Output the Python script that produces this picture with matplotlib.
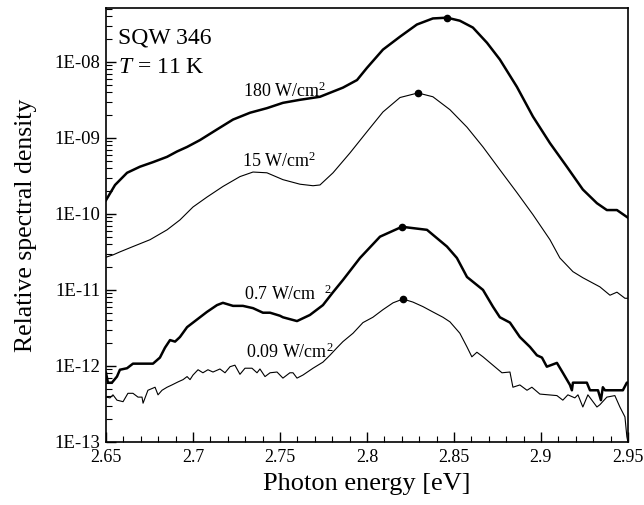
import numpy as np
import matplotlib
matplotlib.use("Agg")
import matplotlib.pyplot as plt
from matplotlib.ticker import MultipleLocator, FixedLocator, FuncFormatter

plt.rcParams['font.family'] = ['Liberation Serif', 'DejaVu Serif']
plt.rcParams['mathtext.fontset'] = 'custom'
plt.rcParams['mathtext.rm'] = 'Liberation Serif'
plt.rcParams['mathtext.it'] = 'Liberation Serif:italic'

# photon energy [eV] and log10(relative spectral density)
e_180 = [2.650, 2.6552, 2.6621, 2.6695, 2.677, 2.6851, 2.6908, 2.6966, 2.704, 2.7138,
         2.723, 2.7328, 2.7425, 2.7517, 2.7615, 2.773, 2.7862, 2.7943, 2.800, 2.8092,
         2.819, 2.8287, 2.8379, 2.846, 2.8534, 2.8609, 2.869, 2.8764, 2.8862, 2.8954,
         2.9052, 2.9149, 2.9241, 2.9322, 2.9379, 2.9437, 2.95]
d_180 = [-9.82, -9.62, -9.46, -9.38, -9.32, -9.25, -9.18, -9.12, -9.03, -8.89,
         -8.76, -8.67, -8.61, -8.54, -8.50, -8.46, -8.34, -8.24, -8.08, -7.84,
         -7.67, -7.51, -7.43, -7.42, -7.46, -7.55, -7.75, -7.97, -8.33, -8.72,
         -9.07, -9.38, -9.68, -9.86, -9.95, -9.95, -10.05]

e_15 = [2.650, 2.654, 2.658, 2.6655, 2.6753, 2.6851, 2.6925, 2.700, 2.708, 2.7172,
        2.727, 2.7345, 2.7425, 2.7517, 2.7615, 2.769, 2.773, 2.7805, 2.7902, 2.800,
        2.8092, 2.819, 2.8293, 2.8379, 2.8477, 2.8575, 2.8667, 2.8764, 2.8862, 2.8954,
        2.9052, 2.9109, 2.9184, 2.9241, 2.9339, 2.9397, 2.9437, 2.9483, 2.95]
d_15 = [-10.57, -10.54, -10.50, -10.43, -10.34, -10.21, -10.08, -9.91, -9.78, -9.64,
        -9.51, -9.45, -9.46, -9.55, -9.61, -9.63, -9.62, -9.46, -9.20, -8.92,
        -8.66, -8.47, -8.41, -8.46, -8.63, -8.86, -9.12, -9.42, -9.72, -10.01,
        -10.34, -10.58, -10.76, -10.84, -10.96, -11.07, -11.03, -11.11, -11.11]

e_07 = [2.650, 2.6511, 2.6534, 2.6563, 2.658, 2.6621, 2.6655, 2.677, 2.681, 2.6839,
        2.6868, 2.6897, 2.6925, 2.6966, 2.7023, 2.708, 2.7138, 2.7172, 2.723, 2.7287,
        2.7345, 2.7402, 2.7443, 2.75, 2.7517, 2.7598, 2.7672, 2.7747, 2.7805, 2.7862,
        2.796, 2.8075, 2.8201, 2.8345, 2.846, 2.8517, 2.8575, 2.8667, 2.8724, 2.8764,
        2.8822, 2.8879, 2.8937, 2.8977, 2.9006, 2.9034, 2.9092, 2.9126, 2.9167, 2.9178,
        2.9184, 2.9264, 2.9282, 2.9328, 2.9345, 2.9356, 2.9368, 2.9471, 2.9494, 2.95]
d_07 = [-12.09, -12.22, -12.22, -12.14, -12.05, -12.03, -11.97, -11.97, -11.89, -11.76,
        -11.66, -11.68, -11.62, -11.49, -11.39, -11.29, -11.20, -11.17, -11.21, -11.21,
        -11.24, -11.30, -11.30, -11.34, -11.36, -11.41, -11.33, -11.20, -11.03, -10.87,
        -10.58, -10.30, -10.17, -10.21, -10.43, -10.58, -10.83, -11.00, -11.22, -11.36,
        -11.43, -11.62, -11.75, -11.86, -11.89, -12.01, -11.96, -12.09, -12.25, -12.32,
        -12.22, -12.22, -12.32, -12.32, -12.45, -12.28, -12.32, -12.32, -12.22, -12.22]

e_009 = [2.650, 2.6523, 2.654, 2.6563, 2.6598, 2.6626, 2.6655, 2.6684, 2.6707, 2.6713,
         2.6741, 2.6782, 2.6799, 2.6822, 2.6851, 2.6879, 2.6914, 2.6943, 2.6966, 2.6983,
         2.700, 2.7029, 2.7057, 2.7086, 2.7115, 2.7155, 2.7184, 2.7213, 2.7241, 2.727,
         2.7299, 2.7339, 2.7368, 2.7385, 2.7414, 2.7443, 2.7483, 2.7517, 2.7557, 2.7575,
         2.7598, 2.7632, 2.769, 2.7747, 2.7787, 2.7828, 2.7862, 2.792, 2.7977, 2.8034,
         2.8092, 2.815, 2.8207, 2.8264, 2.8322, 2.8379, 2.8437, 2.8477, 2.8534, 2.8575,
         2.8603, 2.8632, 2.8667, 2.8724, 2.8776, 2.8822, 2.8839, 2.8879, 2.892, 2.8948,
         2.8994, 2.9092, 2.9126, 2.9155, 2.9195, 2.9213, 2.9241, 2.927, 2.9322, 2.9339,
         2.9379, 2.9425, 2.9454, 2.9483, 2.9494, 2.95]
d_009 = [-12.41, -12.42, -12.38, -12.45, -12.47, -12.36, -12.36, -12.41, -12.41, -12.49,
         -12.32, -12.28, -12.38, -12.32, -12.28, -12.25, -12.21, -12.18, -12.14, -12.18,
         -12.12, -12.05, -12.09, -12.05, -12.08, -12.04, -12.09, -12.01, -11.99, -12.11,
         -12.03, -12.03, -12.09, -12.04, -12.14, -12.09, -12.08, -12.16, -12.09, -12.09,
         -12.16, -12.12, -12.03, -11.95, -11.86, -11.76, -11.68, -11.57, -11.43, -11.36,
         -11.26, -11.17, -11.12, -11.16, -11.22, -11.29, -11.36, -11.42, -11.57, -11.75,
         -11.88, -11.82, -11.88, -11.99, -12.09, -12.08, -12.28, -12.25, -12.32, -12.28,
         -12.37, -12.39, -12.45, -12.38, -12.42, -12.38, -12.54, -12.38, -12.54, -12.51,
         -12.41, -12.39, -12.54, -12.67, -12.93, -13.0]

labels = ["180 W/cm$^2$", "15 W/cm$^2$", "0.7 W/cm  $^2$", "0.09 W/cm$^2$"]
label_e = [2.7287, 2.728, 2.7295, 2.7305]
label_d = [-8.46, -9.39, -11.13, -11.89]

series = [(e_180, d_180, 1.8), (e_15, d_15, 0.8), (e_07, d_07, 1.8), (e_009, d_009, 0.8)]

fig = plt.figure(figsize=(6.44, 5.05), dpi=100)
ax = fig.add_axes([0.1646, 0.1248, 0.8104, 0.8594])

for e, d, lw in series:
    e = np.array(e)
    v = 10.0 ** np.array(d)
    ax.plot(e, v, color='black', lw=lw, solid_joinstyle='round')
    # dot on the maximum of each spectrum
    i = np.argmax(v)
    ax.plot(e[i], v[i], 'o', color='black', ms=4.5)

for txt, x, y in zip(labels, label_e, label_d):
    ax.text(x, 10.0 ** y, txt, fontsize=13, ha='left', va='baseline')

ax.text(0.023, 0.919, "SQW 346", transform=ax.transAxes, fontsize=17, va='baseline')
ax.text(0.023, 0.850, "$T$ = 11 K", transform=ax.transAxes, fontsize=17, va='baseline')

ax.set_yscale('log')
ax.set_xlim(2.65, 2.95)
ax.set_ylim(1e-13, 5.1e-8)

ax.xaxis.set_major_locator(MultipleLocator(0.05))
ax.xaxis.set_minor_locator(MultipleLocator(0.01))
ax.xaxis.set_major_formatter(FuncFormatter(lambda v, p: "%g" % round(v, 2)))
ax.yaxis.set_major_locator(FixedLocator([1e-13, 1e-12, 1e-11, 1e-10, 1e-9, 1e-8]))
ax.yaxis.set_major_formatter(FuncFormatter(lambda v, p: "1E-%02d" % round(-np.log10(v))))

ax.tick_params(which='both', direction='in', right=False, top=False, labelsize=13)
ax.tick_params(axis='y', labelsize=13.5, pad=4)
ax.tick_params(which='major', length=7, width=1)
ax.tick_params(which='minor', length=4, width=0.8)
ax.tick_params(axis='x', pad=5)

for s in ax.spines.values():
    s.set_linewidth(1.2)

ax.set_xlabel("Photon energy [eV]", fontsize=19, labelpad=5)
ax.set_ylabel("Relative spectral density", fontsize=18.5, labelpad=13)

fig.savefig("out.png", dpi=100)
